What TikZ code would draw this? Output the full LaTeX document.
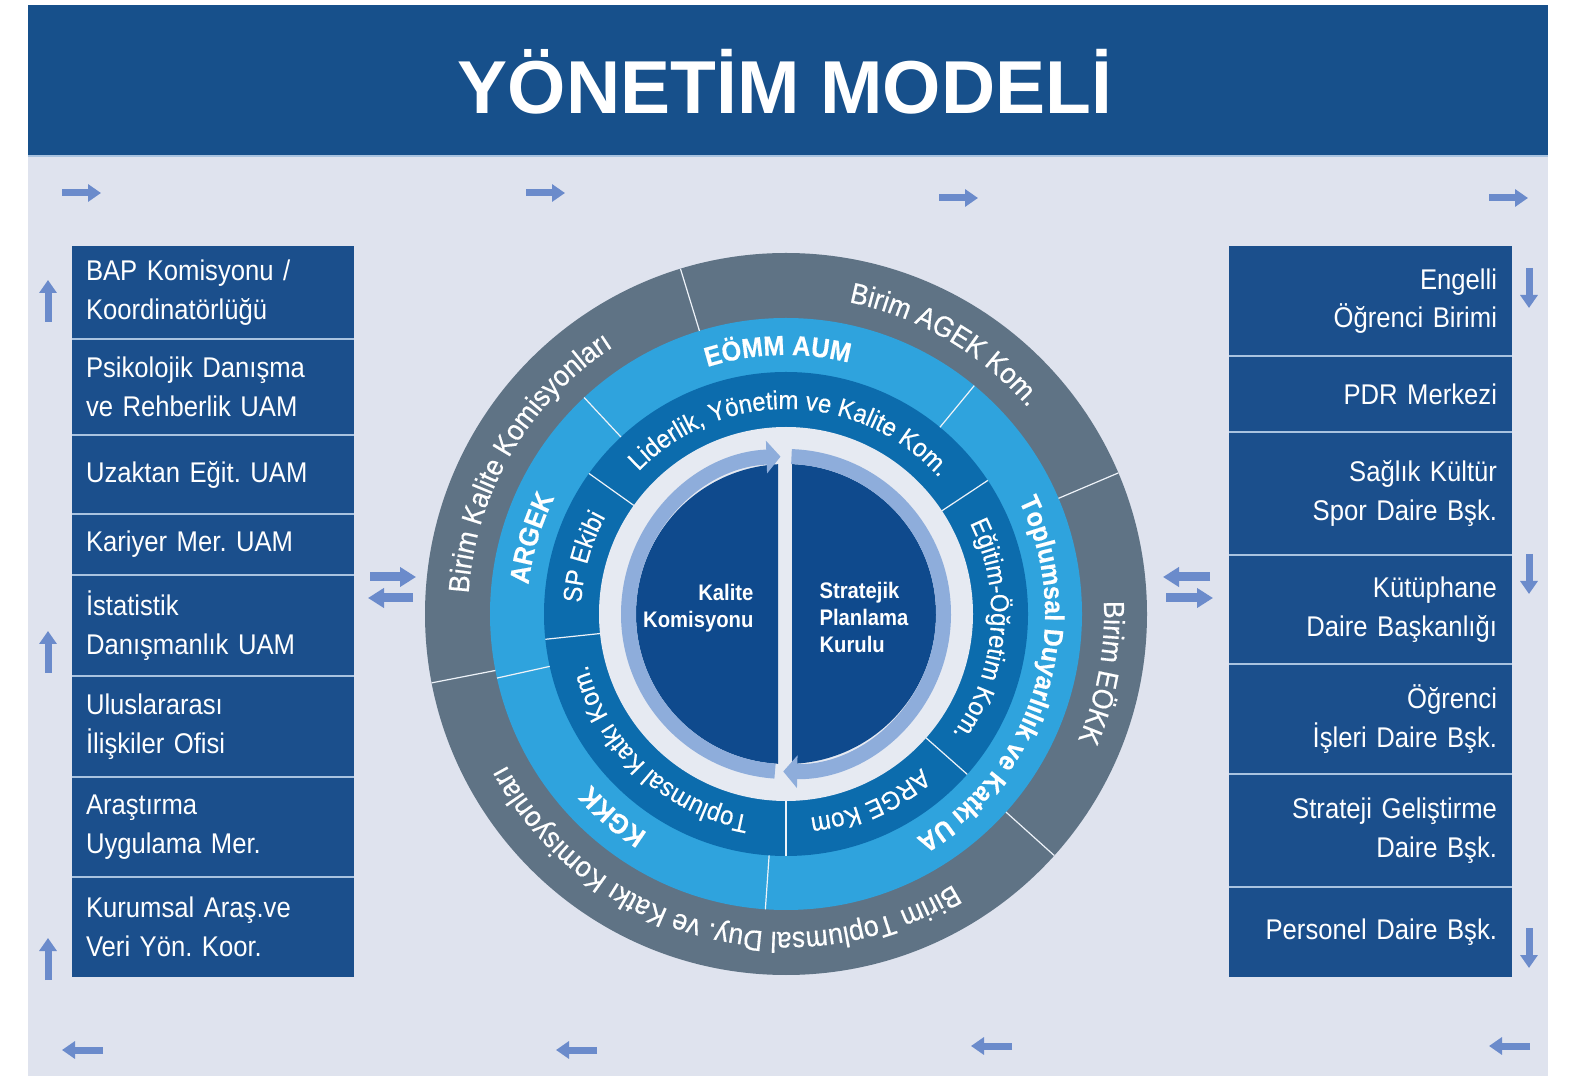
\documentclass[tikz,border=0pt]{standalone}
\usepackage{fontspec}
\setmainfont{Liberation Sans}[FakeStretch=0.9]
\newfontfamily\titlefont{Liberation Sans}
\newfontfamily\ringfont{Liberation Sans}[FakeStretch=0.92,FakeBold=0.4]
\usetikzlibrary{arrows.meta,decorations.text}
\frenchspacing

\definecolor{panelbg}{HTML}{DFE3EE}
\definecolor{barblue}{HTML}{17508B}
\definecolor{boxblue}{HTML}{1B4F8C}
\definecolor{ringgray}{HTML}{5F7385}
\definecolor{ringlight}{HTML}{2FA3DD}
\definecolor{ringdark}{HTML}{0C6CAD}
\definecolor{ringpale}{HTML}{E6EAF2}
\definecolor{bandblue}{HTML}{8EADDB}
\definecolor{navy}{HTML}{0F4A8D}
\definecolor{flowblue}{HTML}{6B8BCB}
\definecolor{sepblue}{HTML}{A9C3E0}

\tikzset{
  lbox/.style={fill=boxblue, text=white, anchor=north west, outer sep=0pt,
    minimum width=282pt, text width=254pt, inner xsep=14pt, align=left,
    font=\fontsize{28.5}{38.5}\selectfont},
  rbox/.style={lbox, minimum width=283pt, text width=253pt, inner xsep=15pt, align=right},
  sep/.style={sepblue, line width=1.5pt},
  flow/.style={flowblue, line width=7pt, -{Triangle[width=17pt,length=13pt]}},
  bigflow/.style={flowblue, line width=9pt, -{Triangle[width=19pt,length=16pt]}},
  loopband/.style={bandblue, line width=15pt, -{Triangle[width=32pt,length=14pt]}},
  divider/.style={draw=white!80!sepblue, line width=1.2pt},
  ctext/.style={text=white, font=\bfseries\fontsize{22.5}{27}\selectfont}
}

% text on a ring, read clockwise
\newcommand{\ringlabel}[4]{%
  \path[decorate, decoration={text along path, text align=center, text color=white,
    text={|\ringfont#3|#4}}] (#2+85:#1) arc[start angle=#2+85, end angle=#2-85, radius=#1];}

\begin{document}
\begin{tikzpicture}[x=1pt,y=1pt]
\useasboundingbox (0,0) rectangle (1580,1077);
\fill[white] (0,0) rectangle (1580,1077);
\fill[panelbg] (28,1) rectangle (1548,921);
\fill[barblue] (28,921) rectangle (1548,1072);
\draw[sep, line width=2pt] (28,921) -- (1548,921);
\node[anchor=base, text=white, font=\titlefont\bfseries\fontsize{75}{75}\selectfont] (title) at (785,963) {YÖNETİM MODELİ};

% left column
\node[lbox, minimum height=93pt] (l1) at (72,831) {BAP Komisyonu /\\Koordinatörlüğü};
\node[lbox, minimum height=96pt] (l2) at (l1.south west) {Psikolojik Danışma\\ve Rehberlik UAM};
\node[lbox, minimum height=79pt] (l3) at (l2.south west) {Uzaktan Eğit. UAM};
\node[lbox, minimum height=61pt] (l4) at (l3.south west) {Kariyer Mer. UAM};
\node[lbox, minimum height=101pt] (l5) at (l4.south west) {İstatistik\\Danışmanlık UAM};
\node[lbox, minimum height=101pt] (l6) at (l5.south west) {Uluslararası\\İlişkiler Ofisi};
\node[lbox, minimum height=100pt] (l7) at (l6.south west) {Araştırma\\Uygulama Mer.};
\node[lbox, minimum height=100pt] (l8) at (l7.south west) {Kurumsal Araş.ve\\Veri Yön. Koor.};
\foreach \i in {1,...,7} \draw[sep] (l\i.south west) -- (l\i.south east);

% right column
\node[rbox, minimum height=110pt] (r1) at (1229,831) {Engelli\\Öğrenci Birimi};
\node[rbox, minimum height=76pt] (r2) at (r1.south west) {PDR Merkezi};
\node[rbox, minimum height=123pt] (r3) at (r2.south west) {Sağlık Kültür\\Spor Daire Bşk.};
\node[rbox, minimum height=109pt] (r4) at (r3.south west) {Kütüphane\\Daire Başkanlığı};
\node[rbox, minimum height=110pt] (r5) at (r4.south west) {Öğrenci\\İşleri Daire Bşk.};
\node[rbox, minimum height=113pt] (r6) at (r5.south west) {Strateji Geliştirme\\Daire Bşk.};
\node[rbox, minimum height=90pt] (r7) at (r6.south west) {Personel Daire Bşk.};
\foreach \i in {1,...,6} \draw[sep] (r\i.south west) -- (r\i.south east);

% flow arrows round the panel
\foreach \x/\y in {62/884, 526/884, 939/879, 1489/879} \draw[flow] (\x,\y) -- ++(39,0);
\foreach \x/\y in {103/27, 597/27, 1012/31, 1530/31} \draw[flow] (\x,\y) -- ++(-41,0);
\foreach \y in {755, 404, 97} \draw[flow] (48,\y) -- ++(0,42);
\foreach \y in {809, 523, 149} \draw[flow] (1529,\y) -- ++(0,-40);
\draw[bigflow] (370,500) -- (416,500);
\draw[bigflow] (413,479) -- (368,479);
\draw[bigflow] (1210,500) -- (1163,500);
\draw[bigflow] (1166,479) -- (1213,479);

% the wheel
\begin{scope}[shift={(786,463)}]
  \fill[ringgray] (0,0) circle (361);
  \fill[ringlight] (0,0) circle (296);
  \fill[ringdark] (0,0) circle (242);
  \fill[ringpale] (0,0) circle (187);
  \begin{scope}
    \clip (-200,-200) rectangle (-8,200);
    \fill[navy] (0,0) circle (150);
  \end{scope}
  \begin{scope}
    \clip (6,-200) rectangle (200,200);
    \fill[navy] (0,0) circle (150);
  \end{scope}
  \draw[loopband] (266:157.5) arc[start angle=266, end angle=92, radius=157.5];
  \draw[loopband] (88:157.5) arc[start angle=88, end angle=-91, radius=157.5];
  \foreach \a in {107,23,-42,191} \draw[divider] (\a:296) -- (\a:361);
  \foreach \a in {133,50.5,266,192.5} \draw[divider] (\a:242) -- (\a:296);
  \foreach \a in {144.5,33.5,-41.5,270,186} \draw[divider] (\a:187) -- (\a:242);

  \ringlabel{318}{59.5}{\fontsize{29}{29}\selectfont}{Birim AGEK Kom.}
  \ringlabel{318}{149.6}{\fontsize{29}{29}\selectfont}{Birim Kalite Komisyonları}
  \ringlabel{318}{-10.5}{\fontsize{29}{29}\selectfont}{Birim EÖKK}
  \ringlabel{318}{255}{\fontsize{29}{29}\selectfont}{Birim Toplumsal Duy. ve Katkı Komisyonları}

  \ringlabel{259}{91.8}{\bfseries\fontsize{27.5}{27.5}\selectfont}{EÖMM AUM}
  \ringlabel{259}{163.4}{\bfseries\fontsize{27.5}{27.5}\selectfont}{ARGEK}
  \ringlabel{259}{229.4}{\bfseries\fontsize{27.5}{27.5}\selectfont}{KGKK}
  \ringlabel{259}{-17}{\bfseries\fontsize{27}{27}\selectfont}{Toplumsal Duyarlılık ve Katkı UA}

  \ringlabel{205}{88.8}{\fontsize{26}{26}\selectfont}{Liderlik, Yönetim ve Kalite Kom.}
  \ringlabel{205}{164.3}{\fontsize{26}{26}\selectfont}{SP Ekibi}
  \ringlabel{205}{-4.7}{\fontsize{26}{26}\selectfont}{Eğitim-Öğretim Kom.}
  \ringlabel{205}{-66}{\fontsize{26}{26}\selectfont}{ARGE Kom}
  \ringlabel{205}{227}{\fontsize{26}{26}\selectfont}{Toplumsal Katkı Kom.}
\end{scope}

\node[ctext, anchor=east, align=right] (kalite) at (757,469) {Kalite\\Komisyonu};
\node[ctext, anchor=west, align=left] (spk) at (816,460) {Stratejik\\Planlama\\Kurulu};
\end{tikzpicture}
\end{document}
